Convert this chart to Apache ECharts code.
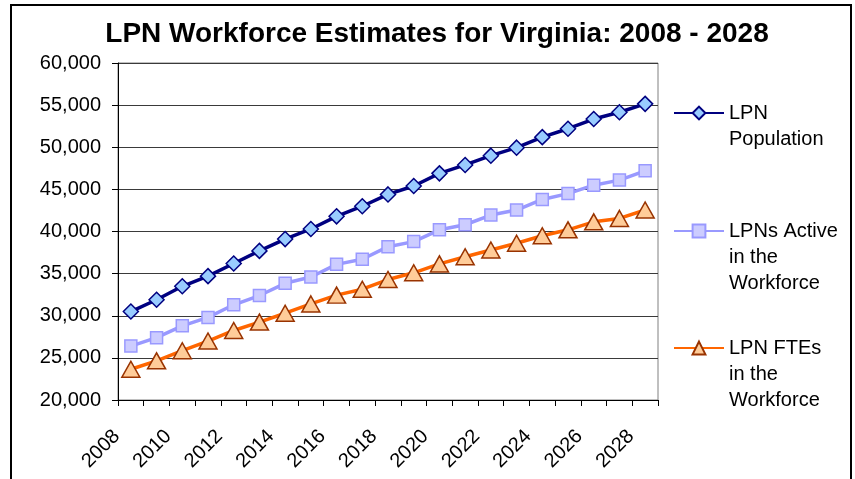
<!DOCTYPE html>
<html>
<head>
<meta charset="utf-8">
<script src="https://cdn.jsdelivr.net/npm/echarts@6/dist/echarts.min.js"></script>
<style>
  html, body { margin: 0; padding: 0; background: #fff; }
  #chart { width: 855px; height: 479px; }
</style>
</head>
<body>
<div id="chart"></div>
<script>
  const years = ['2008', '2009', '2010', '2011', '2012', '2013', '2014', '2015', '2016', '2017', '2018',
                 '2019', '2020', '2021', '2022', '2023', '2024', '2025', '2026', '2027', '2028']
  const lpnPopulation = [30500, 31900, 33500, 34700, 36200, 37700, 39100, 40300, 41800, 43000, 44400,
                         45400, 46900, 47900, 49000, 49950, 51200, 52200, 53350, 54150, 55150]
  const lpnActive = [26400, 27400, 28800, 29800, 31300, 32400, 33850, 34600, 36100, 36700, 38200,
                     38800, 40200, 40800, 41950, 42550, 43800, 44500, 45500, 46100, 47200]
  const lpnFte = [23650, 24650, 25850, 27000, 28250, 29250, 30300, 31400, 32450, 33150, 34300,
                  35100, 36150, 37000, 37800, 38600, 39500, 40200, 41150, 41550, 42550]
  const seriesNames = ['LPN Population', 'LPNs Active in the Workforce', 'LPN FTEs in the Workforce']
  // legend text, with blank lines on top so the icon sits on the first line
  const legendLabels = {
    'LPN Population': '\nLPN\nPopulation',
    'LPNs Active in the Workforce': '\n\nLPNs Active\nin the\nWorkforce',
    'LPN FTEs in the Workforce': '\n\nLPN FTEs\nin the\nWorkforce'
  }

  const font = "'Liberation Sans', Arial, sans-serif"
  const legendText = {fontSize: 20, lineHeight: 26, color: '#000', fontFamily: font}
  const makeLegend = (name, top) => ({
    data: [name],
    left: 673,
    top: top,
    padding: 0,
    itemWidth: 50,
    itemHeight: 16,
    selectedMode: false,
    textStyle: legendText,
    formatter: n => legendLabels[n]
  })

  const chart = echarts.init(document.getElementById('chart'))
  chart.setOption({
    animation: false,
    backgroundColor: '#fff',
    title: {
      text: 'LPN Workforce Estimates for Virginia: 2008 - 2028',
      left: 432,
      textAlign: 'center',
      top: 15,
      textStyle: {fontSize: 28, fontWeight: 'bold', color: '#000', fontFamily: font}
    },
    graphic: [{
      type: 'rect',
      shape: {x: 11, y: 5, width: 840, height: 520},
      style: {fill: 'none', stroke: '#000', lineWidth: 2},
      silent: true
    }],
    legend: [
      makeLegend(seriesNames[0], 74),
      makeLegend(seriesNames[1], 166),
      makeLegend(seriesNames[2], 283)
    ],
    grid: {left: 118, top: 63, right: 197, bottom: 79, show: true, borderColor: '#808080', borderWidth: 1},
    xAxis: {
      type: 'category',
      data: years,
      boundaryGap: true,
      axisLine: {lineStyle: {color: '#000', width: 1}},
      axisTick: {show: true, interval: 0, length: 6, lineStyle: {color: '#000'}},
      axisLabel: {
        interval: 1,
        rotate: 45,
        margin: 19,
        padding: [0, 20, 0, 0],
        fontSize: 20,
        color: '#000',
        fontFamily: font
      }
    },
    yAxis: {
      type: 'value',
      min: 20000,
      max: 60000,
      interval: 5000,
      axisLine: {show: true, lineStyle: {color: '#000', width: 1}},
      axisTick: {show: true, length: 6, lineStyle: {color: '#000'}},
      axisLabel: {
        margin: 17,
        fontSize: 20,
        color: '#000',
        fontFamily: font,
        formatter: v => v.toLocaleString('en-US')
      },
      splitLine: {lineStyle: {color: '#3a3a3a', width: 1}}
    },
    series: [
      {
        name: seriesNames[0],
        type: 'line',
        data: lpnPopulation,
        symbol: 'diamond',
        symbolSize: 15,
        lineStyle: {color: '#000080', width: 3.5},
        itemStyle: {color: '#99CCFF', borderColor: '#000080', borderWidth: 1.5}
      },
      {
        name: seriesNames[1],
        type: 'line',
        data: lpnActive,
        symbol: 'rect',
        symbolSize: 12,
        lineStyle: {color: '#9999FF', width: 3.5},
        itemStyle: {color: '#CCCCFF', borderColor: '#9999FF', borderWidth: 1.5}
      },
      {
        name: seriesNames[2],
        type: 'line',
        data: lpnFte,
        symbol: 'triangle',
        symbolSize: [18, 16],
        lineStyle: {color: '#FF6600', width: 3.5},
        itemStyle: {color: '#FFCC99', borderColor: '#993300', borderWidth: 1.5}
      }
    ]
  })
</script>
</body>
</html>
